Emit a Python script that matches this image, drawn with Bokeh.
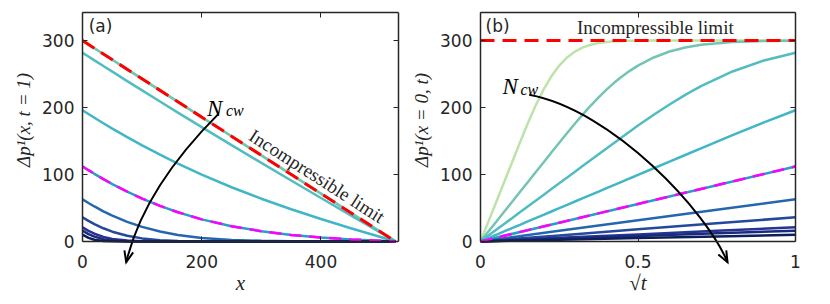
import math
from bokeh.plotting import figure
from bokeh.layouts import row
from bokeh.models import Range1d, FixedTicker, LinearAxis, Label
from bokeh.embed import file_html
from bokeh.resources import INLINE

# ---------------- data: panel (a)  dp(x, t=1) ----------------
X_A = [0, 10, 20, 35, 50, 75, 100, 130, 160, 200, 250, 300, 350, 400, 450, 500, 525]
A1 = [300, 294.3, 288.6, 280.0, 271.4, 257.1, 242.9, 225.7, 208.6, 185.7, 157.1, 128.6, 100.0, 71.4, 42.9, 14.3, 0]
A2 = [299.9, 294.2, 288.5, 279.9, 271.3, 257.0, 242.8, 225.6, 208.5, 185.6, 157.0, 128.5, 100.0, 71.4, 42.9, 14.3, 0]
A3 = [281.9, 276.2, 270.5, 262.0, 253.6, 239.5, 225.6, 209.0, 192.5, 170.8, 143.9, 117.3, 91.0, 64.8, 38.8, 12.9, 0]
A4 = [196.0, 190.4, 184.8, 176.6, 168.6, 155.8, 143.5, 129.5, 116.3, 99.8, 80.9, 63.8, 48.0, 33.5, 19.7, 6.5, 0]
A5 = [112.0, 106.4, 101.0, 93.1, 85.7, 74.3, 64.0, 53.0, 43.6, 32.9, 22.7, 15.2, 9.6, 5.8, 3.0, 1.0, 0]
A6 = [63.0, 57.4, 52.2, 45.0, 38.5, 29.1, 21.7, 14.7, 9.7, 5.2, 2.2, 0.9, 0.3, 0.1, 0, 0, 0]
A7 = [36.0, 30.6, 25.8, 19.6, 14.5, 8.4, 4.5, 1.9, 0.7, 0.2, 0, 0, 0, 0, 0, 0, 0]
A8 = [21.0, 15.8, 11.5, 6.8, 3.7, 1.2, 0.3, 0, 0, 0, 0, 0, 0, 0, 0, 0, 0]
A9 = [16.0, 11.0, 7.2, 3.4, 1.4, 0.3, 0, 0, 0, 0, 0, 0, 0, 0, 0, 0, 0]
A10 = [10.0, 5.3, 2.5, 0.6, 0.1, 0, 0, 0, 0, 0, 0, 0, 0, 0, 0, 0, 0]
LIMIT_A_X = [0, 525]
LIMIT_A_Y = [300, 0]

# ---------------- data: panel (b)  dp(x=0, t) vs sqrt(t) ----------------
S_FINE = [0, 0.025, 0.05, 0.075, 0.1, 0.125, 0.15, 0.175, 0.2, 0.225, 0.25, 0.275, 0.3, 0.325,
          0.35, 0.375, 0.4, 0.425, 0.45, 0.475, 0.5, 0.55, 0.6, 0.65, 0.7, 0.8, 0.9, 1.0]
B1 = [0, 29.5, 59.0, 88.5, 118.0, 147.4, 176.1, 203.0, 226.7, 246.7, 262.7, 274.8, 283.7, 289.8,
      293.8, 296.4, 298.0, 298.9, 299.4, 299.7, 299.9, 300, 300, 300, 300, 300, 300, 300]
B2 = [0, 14.8, 29.5, 44.3, 59.0, 73.8, 88.5, 103.3, 118.0, 132.8, 147.4, 161.9, 176.1, 189.8,
      203.0, 215.3, 226.7, 237.3, 246.7, 255.2, 262.7, 274.8, 283.7, 289.8, 293.8, 298.0, 299.4, 299.9]
B3 = [0, 8.7, 17.4, 26.1, 34.7, 43.4, 52.1, 60.8, 69.5, 78.2, 86.9, 95.5, 104.2, 112.9,
      121.6, 130.3, 138.9, 147.5, 156.1, 164.6, 173.1, 189.2, 204.6, 219.0, 232.0, 253.9, 270.4, 281.9]
B4 = [0, 5.0, 9.9, 14.9, 19.9, 24.8, 29.8, 34.8, 39.7, 44.7, 49.7, 54.6, 59.6, 64.6,
      69.5, 74.5, 79.5, 84.4, 89.4, 94.4, 99.3, 109.3, 119.2, 129.1, 139.0, 158.7, 177.8, 196.0]
S_COARSE = [0, 0.25, 0.5, 0.75, 1.0]
B5 = [0, 28.0, 56.0, 84.0, 112.0]
B6 = [0, 15.8, 31.5, 47.3, 63.0]
B7 = [0, 9.0, 18.0, 27.0, 36.0]
B8 = [0, 5.3, 10.5, 15.8, 21.0]
B9 = [0, 4.0, 8.0, 12.0, 16.0]
B10 = [0, 2.5, 5.0, 7.5, 10.0]
LIMIT_B_X = [0, 1]
LIMIT_B_Y = [300, 300]

X_TICKS_A = [0, 200, 400]
X_TICKS_B = [0, 0.5, 1]
Y_TICKS = [0, 100, 200, 300]

COLORS = ["#bde3aa", "#72c5b3", "#52bdc1", "#41b6c6", "#2b9bc8",
          "#2467ae", "#24489c", "#253494", "#1b2a7c", "#0d1f5a"]

INK = "#262626"
TICK_FONT = "DejaVu Sans"
SERIF = "Liberation Serif"
Y_MIN, Y_MAX = -36, 342
FRAME_H = 253
NB = "\u00a0" * 8   # shifts the rotated y label up towards the visible axis part


def style_axis(ax, ticks, labels=True, line=True, overrides=None):
    ax.ticker = FixedTicker(ticks=ticks)
    ax.minor_tick_line_color = None
    ax.major_tick_in = 5
    ax.major_tick_out = 0
    ax.major_tick_line_color = INK if line else None
    ax.major_tick_line_width = 1
    ax.axis_line_color = INK if line else None
    ax.axis_line_width = 1.5
    if labels:
        ax.major_label_text_font = TICK_FONT
        ax.major_label_text_font_size = "17px"
        ax.major_label_text_color = INK
        ax.major_label_standoff = 8
        if overrides:
            ax.major_label_overrides = overrides
    else:
        ax.major_label_overrides = {t: "" for t in ticks}
        ax.major_label_text_font_size = "0px"
        ax.major_label_standoff = 0
        ax.axis_label_standoff = 0


def make_fig(x_end, xticks, bl, br, fw, xlabel, ylabel, overrides=None):
    p = figure(output_backend="svg", toolbar_location=None,
               frame_width=fw, frame_height=FRAME_H,
               x_range=Range1d(0, x_end), y_range=Range1d(Y_MIN, Y_MAX),
               min_border_left=bl, min_border_right=br,
               min_border_top=12, min_border_bottom=31)
    p.grid.visible = False
    p.outline_line_color = None
    p.background_fill_color = "white"
    p.border_fill_color = "white"
    xax = p.xaxis[0]
    yax = p.yaxis[0]
    # bottom axis: labels only (the drawn axis line sits at y = 0)
    style_axis(xax, xticks, line=False, overrides=overrides)
    xax.major_label_standoff = -11
    yax_bounds = (0, Y_MAX)
    style_axis(yax, Y_TICKS)
    yax.bounds = yax_bounds
    xax.axis_label = xlabel
    xax.axis_label_text_font_size = "21px"
    yax.axis_label = NB + ylabel
    yax.axis_label_text_font_size = "19px"
    for ax in (xax, yax):
        ax.axis_label_text_font = SERIF
        ax.axis_label_text_font_style = "italic"
        ax.axis_label_text_color = INK
    xax.axis_label_standoff = 0
    yax.axis_label_standoff = 5
    zero = LinearAxis(fixed_location=0)
    style_axis(zero, xticks, labels=False)
    p.add_layout(zero, "below")
    top = LinearAxis()
    style_axis(top, xticks, labels=False)
    p.add_layout(top, "above")
    right = LinearAxis(bounds=yax_bounds)
    style_axis(right, Y_TICKS, labels=False)
    p.add_layout(right, "right")
    return p


def arrow_head(p, tip_x, tip_y, dir_px, x_end, fw, length=12.0, half_deg=22.0):
    """Open V head at the tip; geometry given in screen pixels."""
    sx = fw / x_end
    sy = FRAME_H / (Y_MAX - Y_MIN)
    dx, dy = dir_px
    n = math.hypot(dx, dy)
    ux, uy = dx / n, dy / n
    pts = []
    for s in (1, -1):
        a = math.radians(half_deg) * s
        rx = ux * math.cos(a) - uy * math.sin(a)
        ry = ux * math.sin(a) + uy * math.cos(a)
        pts.append((tip_x - length * rx / sx, tip_y + length * ry / sy))
    p.line([pts[0][0], tip_x, pts[1][0]], [pts[0][1], tip_y, pts[1][1]],
           line_color="black", line_width=2, line_join="miter")


# ---------------- panel (a) ----------------
FW1, FW2 = 316, 315
p1 = make_fig(530, X_TICKS_A, 82, 10, FW1, "x", "Δp¹(x, t = 1)")
for ys, c in zip([A1, A2, A3, A4, A5, A6, A7, A8, A9, A10], COLORS):
    p1.line(X_A, ys, line_color=c, line_width=2.5)
p1.line(X_A, A5, line_color="#ff00ff", line_width=2.5, line_dash="12 8")
p1.line(LIMIT_A_X, LIMIT_A_Y, line_color="#ff0000", line_width=3, line_dash="14 8")

p1.add_layout(Label(x=10.4, y=322, text="(a)", text_font=TICK_FONT, text_font_size="17px",
                    text_color=INK, text_baseline="middle", text_align="left"))
p1.add_layout(Label(x=393.3, y=97.5, text="Incompressible limit", text_font=SERIF,
                    text_font_size="19px", text_color=INK, angle=-0.570,
                    text_align="center", text_baseline="middle"))
p1.add_layout(Label(x=208.8, y=198.4, text="N", text_font=SERIF, text_font_style="italic",
                    text_font_size="23px", text_color="black", text_baseline="alphabetic"))
p1.add_layout(Label(x=240.5, y=195.1, text="cw", text_font=SERIF, text_font_style="italic",
                    text_font_size="16px", text_color="black", text_baseline="alphabetic"))
p1.quadratic(x0=[228.1], y0=[190.6], x1=[73.3], y1=[-31.1], cx=[103.0], cy=[79.2],
             line_color="black", line_width=2)
arrow_head(p1, 73.3, -31.1, (-5, 21), 530, FW1)

# ---------------- panel (b) ----------------
p2 = make_fig(1, X_TICKS_B, 72, 21, FW2, "√t", "Δp¹(x = 0, t)",
              overrides={0: "0", 0.5: "0.5", 1: "1"})
for ys, c in zip([B1, B2, B3, B4], COLORS[:4]):
    p2.line(S_FINE, ys, line_color=c, line_width=2.5)
for ys, c in zip([B5, B6, B7, B8, B9, B10], COLORS[4:]):
    p2.line(S_COARSE, ys, line_color=c, line_width=2.5)
p2.line(S_COARSE, B5, line_color="#ff00ff", line_width=2.5, line_dash="12 8")
p2.line(LIMIT_B_X, LIMIT_B_Y, line_color="#ff0000", line_width=3, line_dash="14 8")

p2.add_layout(Label(x=0.016, y=322, text="(b)", text_font=TICK_FONT, text_font_size="17px",
                    text_color=INK, text_baseline="middle", text_align="left"))
p2.add_layout(Label(x=0.555, y=319, text="Incompressible limit", text_font=SERIF,
                    text_font_size="19px", text_color=INK,
                    text_align="center", text_baseline="middle"))
p2.add_layout(Label(x=0.0698, y=231.7, text="N", text_font=SERIF, text_font_style="italic",
                    text_font_size="23px", text_color="black", text_baseline="alphabetic"))
p2.add_layout(Label(x=0.127, y=227.2, text="cw", text_font=SERIF, text_font_style="italic",
                    text_font_size="16px", text_color="black", text_baseline="alphabetic"))
p2.bezier(x0=[0.1546], y0=[219.0], x1=[0.7841], y1=[-31.1], cx0=[0.4222], cy0=[195.6],
          cx1=[0.7206], cy1=[43.2], line_color="black", line_width=2)
arrow_head(p2, 0.7841, -31.1, (15, 28.4), 1, FW2)

layout = row(p1, p2)
open("out.html", "w").write(file_html(layout, INLINE))
